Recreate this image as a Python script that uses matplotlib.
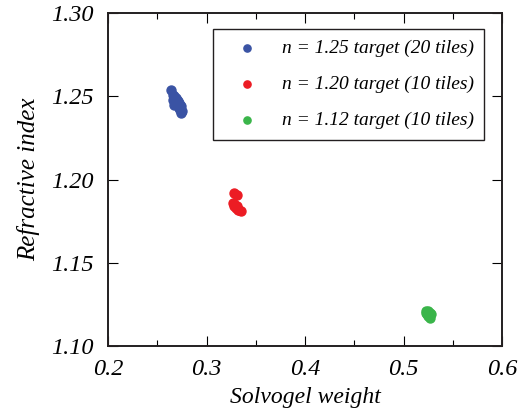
import matplotlib.pyplot as plt

plt.rcParams['font.family'] = ['Liberation Serif', 'DejaVu Serif']
plt.rcParams['font.style'] = 'italic'

w_125 = [0.264, 0.266, 0.267, 0.268, 0.266, 0.269, 0.270, 0.268, 0.271, 0.272,
         0.267, 0.270, 0.273, 0.274, 0.272, 0.275, 0.274, 0.269, 0.271, 0.273]
n_125 = [1.254, 1.251, 1.250, 1.249, 1.248, 1.249, 1.248, 1.246, 1.247, 1.246,
         1.245, 1.245, 1.245, 1.244, 1.243, 1.241, 1.240, 1.247, 1.244, 1.242]

w_120 = [0.328, 0.331, 0.327, 0.329, 0.331, 0.333, 0.335, 0.328, 0.330, 0.332]
n_120 = [1.192, 1.191, 1.186, 1.185, 1.184, 1.182, 1.181, 1.184, 1.183, 1.182]

w_112 = [0.523, 0.525, 0.526, 0.527, 0.524, 0.526, 0.528, 0.525, 0.523, 0.527]
n_112 = [1.121, 1.121, 1.120, 1.120, 1.119, 1.118, 1.119, 1.118, 1.120, 1.117]

xticks = [0.2, 0.3, 0.4, 0.5, 0.6]
xlabels = ['0.2', '0.3', '0.4', '0.5', '0.6']
yticks = [1.10, 1.15, 1.20, 1.25, 1.30]
ylabels = ['1.10', '1.15', '1.20', '1.25', '1.30']

fig = plt.figure(figsize=(5.23, 4.11), dpi=100)
ax = fig.add_axes([0.2065, 0.158, 0.7535, 0.81])

ax.scatter(w_125, n_125, s=42, color='#3a53a4', label='n = 1.25 target (20 tiles)', zorder=3)
ax.scatter(w_120, n_120, s=42, color='#ec1c24', label='n = 1.20 target (10 tiles)', zorder=3)
ax.scatter(w_112, n_112, s=42, color='#3ab54a', label='n = 1.12 target (10 tiles)', zorder=3)

ax.set_xlim(0.2, 0.6)
ax.set_ylim(1.10, 1.30)
ax.tick_params(which='both', direction='in', top=True, right=True)
ax.tick_params(which='major', length=7, width=0.8)
ax.tick_params(which='minor', length=4, width=0.8)
ax.tick_params(axis='x', pad=9)
ax.tick_params(axis='y', pad=10)
ax.set_xticks(xticks)
ax.set_xticklabels(xlabels, fontsize=17.5)
ax.set_xticks([0.25, 0.35, 0.45, 0.55], minor=True)
ax.set_yticks(yticks)
ax.set_yticklabels(ylabels, fontsize=17.5)
for t in ax.get_xticklabels() + ax.get_yticklabels():
    t.set_fontstyle('italic')

for s in ax.spines.values():
    s.set_linewidth(1.4)
    s.set_color('#231f20')

ax.set_xlabel('Solvogel weight', fontsize=17, fontstyle='italic', labelpad=5)
ax.set_ylabel('Refractive index', fontsize=18, fontstyle='italic', labelpad=8)

leg = ax.legend(loc='upper right', bbox_to_anchor=(0.98, 0.983),
                fancybox=False, edgecolor='#231f20', framealpha=1,
                handletextpad=0.6, labelspacing=0.95, borderpad=0.55,
                scatterpoints=1, handlelength=2.4, markerscale=0.8,
                prop={'style': 'italic', 'size': 14})
leg.get_frame().set_linewidth(1.0)

fig.savefig('out.png', dpi=100)
